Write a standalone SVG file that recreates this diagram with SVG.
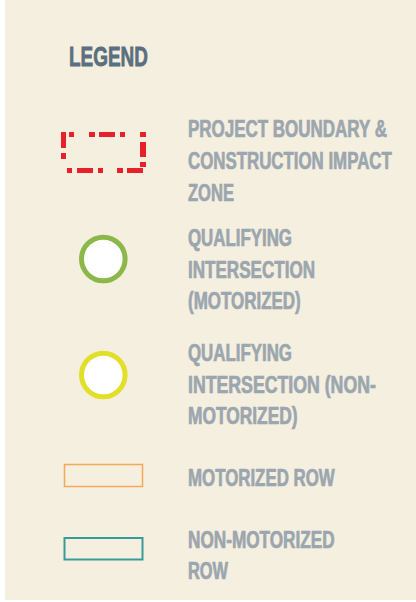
<svg xmlns="http://www.w3.org/2000/svg" width="416" height="602" viewBox="0 0 416 602">
<style>
.t{font-family:"Liberation Sans",Arial,sans-serif;font-weight:bold;font-size:23px;fill:#9ba6af;stroke:#9ba6af;stroke-width:0.7}
.h{font-family:"Liberation Sans",Arial,sans-serif;font-weight:bold;font-size:28px;fill:#5b6f7e;stroke:#5b6f7e;stroke-width:0.8}
.red{fill:#e8202a}
</style>
<rect x="0" y="0" width="416" height="602" fill="#ffffff"/>
<rect x="5" y="0" width="411" height="600" fill="#f5efdf"/>
<text class="h" transform="translate(69,66) scale(0.677,1)">LEGEND</text>
<g id="boundary">
<rect class="red" x="61" y="132" width="5" height="16"/>
<rect class="red" x="61" y="153" width="5" height="6"/>
<rect class="red" x="69" y="132" width="5" height="5"/>
<rect class="red" x="89" y="132" width="6" height="5"/>
<rect class="red" x="99" y="132" width="16" height="5"/>
<rect class="red" x="120" y="132" width="5" height="5"/>
<rect class="red" x="140" y="132" width="6" height="5"/>
<rect class="red" x="140" y="142" width="6" height="15"/>
<rect class="red" x="140" y="162" width="6" height="5"/>
<rect class="red" x="67" y="168" width="5" height="5"/>
<rect class="red" x="77" y="168" width="16" height="5"/>
<rect class="red" x="98" y="168" width="5" height="5"/>
<rect class="red" x="117" y="168" width="6" height="5"/>
<rect class="red" x="127" y="168" width="16" height="5"/>
<text class="t" transform="translate(188,137) scale(0.738,1)">PROJECT BOUNDARY &amp;</text>
<text class="t" transform="translate(188,169) scale(0.733,1)">CONSTRUCTION IMPACT</text>
<text class="t" transform="translate(188,201) scale(0.720,1)">ZONE</text>
</g>
<g id="qual-motorized">
<circle cx="103.3" cy="259" r="21.8" fill="#ffffff" stroke="#8cb84a" stroke-width="5"/>
<text class="t" transform="translate(188,246) scale(0.733,1)">QUALIFYING</text>
<text class="t" transform="translate(188,278) scale(0.742,1)">INTERSECTION</text>
<text class="t" transform="translate(188,309) scale(0.737,1)">(MOTORIZED)</text>
</g>
<g id="qual-nonmotorized">
<circle cx="103.3" cy="375" r="21.8" fill="#ffffff" stroke="#e1df2a" stroke-width="5"/>
<text class="t" transform="translate(188,361) scale(0.733,1)">QUALIFYING</text>
<text class="t" transform="translate(188,393) scale(0.770,1)">INTERSECTION (NON-</text>
<text class="t" transform="translate(188,424) scale(0.755,1)">MOTORIZED)</text>
</g>
<g id="motorized-row">
<rect x="64.5" y="464.5" width="78" height="22" fill="none" stroke="#f4a95a" stroke-width="1.5"/>
<text class="t" transform="translate(188,486) scale(0.733,1)">MOTORIZED ROW</text>
</g>
<g id="nonmotorized-row">
<rect x="64.5" y="538" width="78" height="21.5" fill="none" stroke="#3a9a9a" stroke-width="2"/>
<text class="t" transform="translate(188,548) scale(0.747,1)">NON-MOTORIZED</text>
<text class="t" transform="translate(188,579) scale(0.712,1)">ROW</text>
</g>
<g id="connectors"/>
</svg>
